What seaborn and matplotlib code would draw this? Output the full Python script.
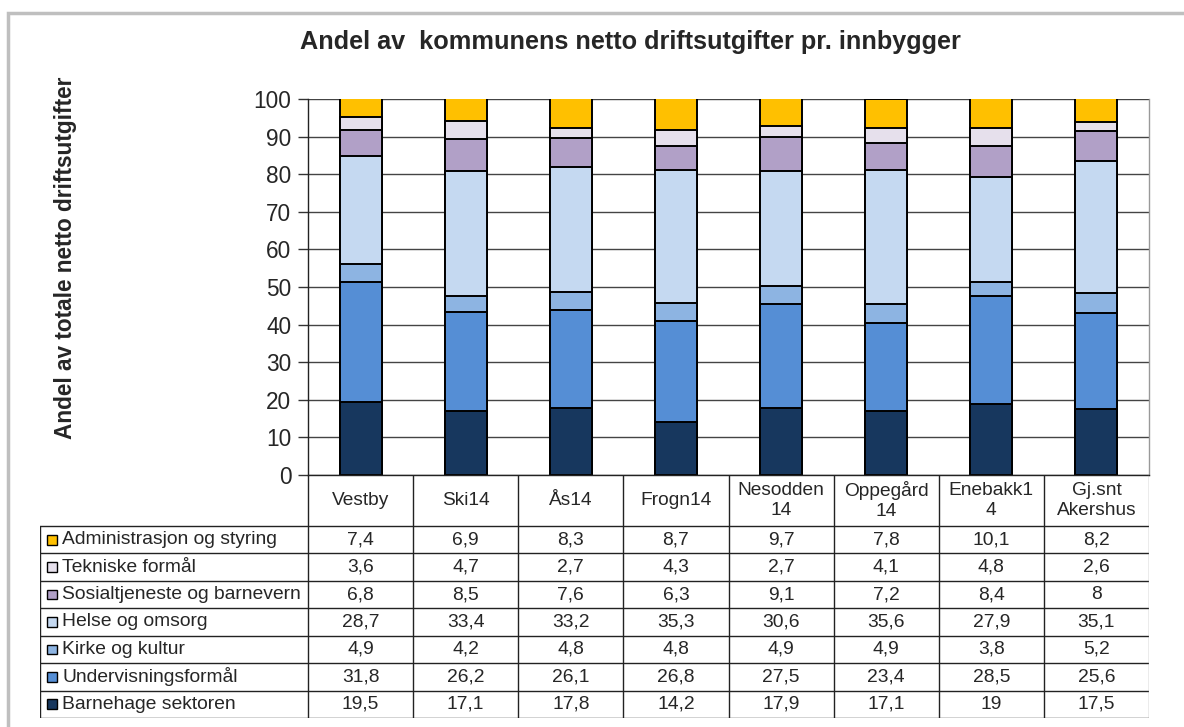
import pandas as pd
import matplotlib.pyplot as plt
import matplotlib.patches as mpatches
import seaborn as sns

# Data
kommuner = ['Vestby', 'Ski14', 'Ås14', 'Frogn14', 'Nesodden\n14', 'Oppegård\n14', 'Enebakk1\n4', 'Gj.snt\nAkershus']
barnehage = [19.5, 17.1, 17.8, 14.2, 17.9, 17.1, 19, 17.5]
undervisning = [31.8, 26.2, 26.1, 26.8, 27.5, 23.4, 28.5, 25.6]
kirke = [4.9, 4.2, 4.8, 4.8, 4.9, 4.9, 3.8, 5.2]
helse = [28.7, 33.4, 33.2, 35.3, 30.6, 35.6, 27.9, 35.1]
sosial = [6.8, 8.5, 7.6, 6.3, 9.1, 7.2, 8.4, 8]
tekniske = [3.6, 4.7, 2.7, 4.3, 2.7, 4.1, 4.8, 2.6]
admin = [7.4, 6.9, 8.3, 8.7, 9.7, 7.8, 10.1, 8.2]

# bottom -> top in the stack
series = ['Barnehage sektoren', 'Undervisningsformål', 'Kirke og kultur', 'Helse og omsorg',
          'Sosialtjeneste og barnevern', 'Tekniske formål', 'Administrasjon og styring']
values = [barnehage, undervisning, kirke, helse, sosial, tekniske, admin]
colors = ['#17375E', '#558ED5', '#8DB4E2', '#C5D9F1', '#B1A0C7', '#E6E0EC', '#FFC000']

df = pd.DataFrame(dict(zip(series, values)), index=kommuner)
cum = df.cumsum(axis=1)

sns.set_theme(style='white')
plt.rcParams['font.family'] = ['Liberation Sans', 'DejaVu Sans']

W, H = 1184, 727
fig = plt.figure(figsize=(W / 100, H / 100), dpi=100)

# outer light gray frame
fig.patches.append(mpatches.Rectangle((8 / W, -0.05), 1.2, (H - 13) / H + 0.05,
                                      transform=fig.transFigure, fill=False,
                                      edgecolor='#BFBFBF', lw=2.5))

ax = fig.add_axes([308 / W, (H - 475) / H, (1149 - 308) / W, (475 - 99) / H])

# stacked bars: draw cumulative totals from top layer down
for s, c in zip(reversed(series), reversed(colors)):
    sns.barplot(x=kommuner, y=cum[s].values, color=c, edgecolor='black', linewidth=1.4,
                width=0.4, errorbar=None, ax=ax, saturation=1, order=kommuner)

ax.set_ylim(0, 100)
ax.set_xlim(-0.5, 7.5)
ax.set_yticks(range(0, 101, 10))
ax.tick_params(axis='y', labelsize=16.3, length=7, width=1, color='#333333', left=True, pad=5)
ax.tick_params(axis='x', labelbottom=False, bottom=False)
ax.yaxis.grid(True, color='#444444', lw=1)
ax.set_axisbelow(True)
ax.spines['top'].set_visible(False)
ax.spines['left'].set_color('#222222')
ax.spines['bottom'].set_color('#222222')
ax.spines['right'].set_color('#999999')
for sp in ['left', 'bottom', 'right']:
    ax.spines[sp].set_linewidth(1)
ax.set_xlabel('')
ax.set_ylabel('')

fig.text(630 / W, (H - 42) / H, 'Andel av  kommunens netto driftsutgifter pr. innbygger',
         ha='center', va='center', fontsize=18.2, fontweight='bold')
fig.text(66 / W, (H - 258) / H, 'Andel av totale netto driftsutgifter', rotation=90,
         ha='center', va='center', fontsize=16.3, fontweight='bold')

# data table below the plot
colw = (1149 - 308) / 8
L = (308 - 40) / colw
tax = fig.add_axes([40 / W, (H - 718) / H, (1149 - 40) / W, (718 - 475) / H])
tax.set_xlim(-0.5 - L, 7.5)
tax.set_ylim(718 - 475, 0)
tax.axis('off')
hdr = 51
rowh = (718 - 475 - hdr) / 7
lc = '#222222'

# header cells
for i, k in enumerate(kommuner):
    tax.text(i, hdr / 2, k, ha='center', va='center', fontsize=13.8, linespacing=1.2)
for i in range(9):
    tax.plot([i - 0.5, i - 0.5], [0, hdr], color=lc if i < 8 else '#999999', lw=1)

rows = list(zip(series, values, colors))[::-1]
for r, (s, v, c) in enumerate(rows):
    yc = hdr + rowh * (r + 0.5)
    tax.add_patch(mpatches.Rectangle((-0.5 - L + 0.065, yc - 4.8), 0.095, 9.6,
                                     facecolor=c, edgecolor='black', lw=1))
    tax.text(-0.5 - L + 0.21, yc, s, ha='left', va='center', fontsize=13.9)
    for i, val in enumerate(v):
        tax.text(i, yc, f'{val:g}'.replace('.', ','), ha='center', va='center', fontsize=13.9)

for r in range(8):
    y = hdr + rowh * r
    tax.plot([-0.5 - L, 7.5], [y, y], color=lc, lw=1)
for x in [-0.5 - L] + [i - 0.5 for i in range(9)]:
    tax.plot([x, x], [hdr, hdr + rowh * 7], color=lc if x < 7 else '#999999', lw=1)

fig.savefig('out.png', dpi=100)
